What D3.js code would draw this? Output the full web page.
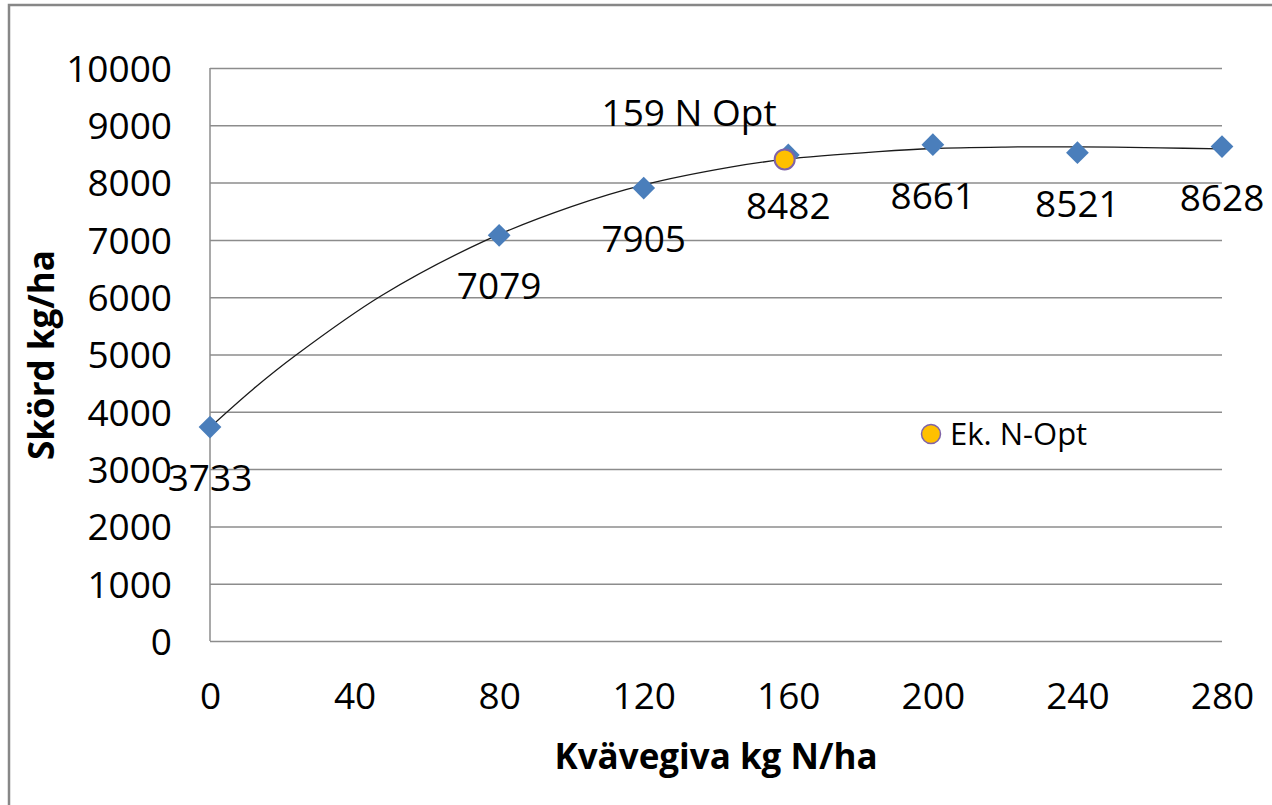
<!DOCTYPE html>
<html>
<head>
<meta charset="utf-8">
<script src="https://cdn.jsdelivr.net/npm/d3@7/dist/d3.min.js"></script>
<style>
  html, body { margin: 0; padding: 0; background: #fff; }
  svg { display: block; }
  text { font-family: "Open Sans", "Noto Sans", sans-serif; fill: #000; }
</style>
</head>
<body>
<svg id="chart" width="1272" height="805"></svg>
<script>
// Nitrogen rate trial: yield per N rate
const nRates = [0, 80, 120, 160, 200, 240, 280];
const yields = [3733, 7079, 7905, 8482, 8661, 8521, 8628];

// Fitted response curve (N rate, yield)
const trendN = [0, 12, 24, 47.5, 76.6, 100, 120, 144, 159, 185, 200, 220, 240, 263, 280];
const trendY = [3730, 4400, 5000, 6030, 7000, 7580, 7960, 8270, 8405, 8540, 8595, 8620, 8625, 8605, 8590];

// Economic optimum
const optN = [159];
const optY = [8405];
const optLabel = ["159 N Opt"];
const legendLabel = "Ek. N-Opt";

const xTicks = [0, 40, 80, 120, 160, 200, 240, 280];
const yTicks = [0, 1000, 2000, 3000, 4000, 5000, 6000, 7000, 8000, 9000, 10000];

const svg = d3.select("#chart");
const plotL = 210, plotR = 1222, plotT = 68, plotB = 641;

const x = d3.scaleLinear().domain([0, 280]).range([plotL, plotR]);
const y = d3.scaleLinear().domain([0, 10000]).range([plotB, plotT]);

// outer chart frame
svg.append("rect")
  .attr("x", 9).attr("y", 5)
  .attr("width", 1300).attr("height", 850)
  .attr("fill", "none").attr("stroke", "#878787").attr("stroke-width", 2.5);

// horizontal gridlines + y tick labels
const yAxis = d3.axisLeft(y).tickValues(yTicks).tickSize(-(plotR - plotL)).tickPadding(38)
  .tickFormat(d3.format("d"));
const gy = svg.append("g").attr("transform", `translate(${plotL},0)`).call(yAxis);
gy.select(".domain").remove();
gy.selectAll(".tick line").attr("stroke", "#8c8c8c").attr("stroke-width", 1.5);
gy.selectAll(".tick text").attr("font-size", 37).attr("dy", "0.36em")
  .attr("font-family", '"Open Sans", sans-serif').attr("fill", "#000");

// vertical axis line
svg.append("line").attr("x1", plotL).attr("x2", plotL).attr("y1", plotT).attr("y2", plotB)
  .attr("stroke", "#8c8c8c").attr("stroke-width", 1.5);

// x tick labels
const xAxis = d3.axisBottom(x).tickValues(xTicks).tickSize(0).tickPadding(42)
  .tickFormat(d3.format("d"));
const gx = svg.append("g").attr("transform", `translate(0,${plotB})`).call(xAxis);
gx.select(".domain").remove();
gx.selectAll(".tick text").attr("font-size", 37)
  .attr("font-family", '"Open Sans", sans-serif').attr("fill", "#000");

// trend curve
const trend = trendN.map((n, i) => [n, trendY[i]]);
svg.append("path")
  .datum(trend)
  .attr("fill", "none").attr("stroke", "#1a1a1a").attr("stroke-width", 1.3)
  .attr("d", d3.line().x(d => x(d[0])).y(d => y(d[1])).curve(d3.curveCatmullRom.alpha(0.5)));

// yield markers (diamonds)
const diamond = d3.symbol().type(d3.symbolDiamond2).size(330);
const pts = nRates.map((n, i) => ({ n, v: yields[i] }));
svg.append("g").selectAll("path").data(pts).join("path")
  .attr("d", diamond)
  .attr("transform", d => `translate(${x(d.n)},${y(d.v)})`)
  .attr("fill", "#4a7ebb");

// yield labels below markers
svg.append("g").selectAll("text").data(pts).join("text")
  .attr("x", d => x(d.n)).attr("y", d => y(d.v) + 64)
  .attr("text-anchor", "middle").attr("font-size", 37)
  .text(d => d.v);

// economic optimum marker
const opt = optN.map((n, i) => ({ n, v: optY[i], label: optLabel[i] }));
svg.append("g").selectAll("circle").data(opt).join("circle")
  .attr("cx", d => x(d.n)).attr("cy", d => y(d.v)).attr("r", 10)
  .attr("fill", "#ffc000").attr("stroke", "#7f63a8").attr("stroke-width", 2);
svg.append("g").selectAll("text").data(opt).join("text")
  .attr("x", d => x(d.n) - 8).attr("y", d => y(d.v) - 33)
  .attr("text-anchor", "end").attr("font-size", 37)
  .text(d => d.label);

// legend
svg.append("circle").attr("cx", 931).attr("cy", 434).attr("r", 9.5)
  .attr("fill", "#ffc000").attr("stroke", "#7f63a8").attr("stroke-width", 1.5);
svg.append("text").attr("x", 950).attr("y", 434).attr("dy", "0.36em")
  .attr("font-size", 31).text(legendLabel);

// axis titles
svg.append("text")
  .attr("x", (plotL + plotR) / 2).attr("y", 769)
  .attr("text-anchor", "middle").attr("font-size", 35).attr("font-weight", "bold")
  .text("Kvävegiva kg N/ha");
svg.append("text")
  .attr("transform", "translate(54,355) rotate(-90)")
  .attr("text-anchor", "middle").attr("font-size", 35).attr("font-weight", "bold")
  .text("Skörd kg/ha");
</script>
</body>
</html>
